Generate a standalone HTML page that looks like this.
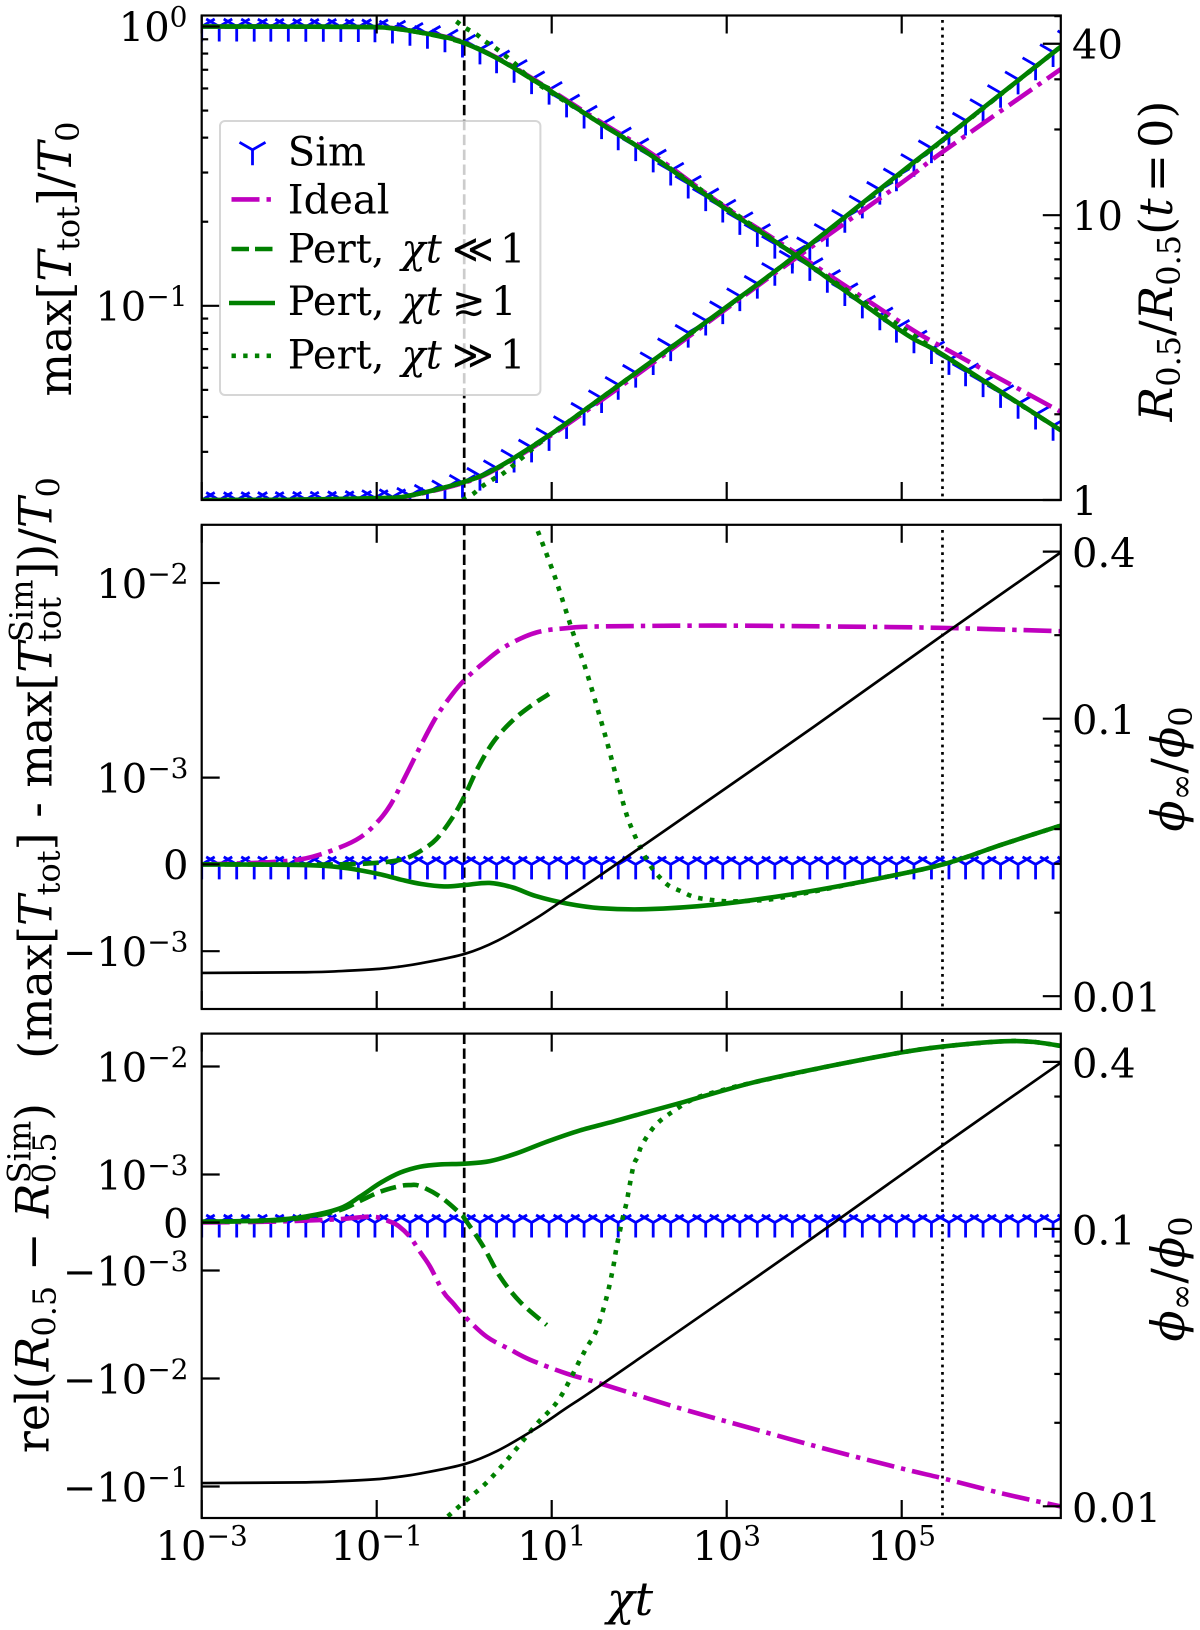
<!DOCTYPE html>
<html lang="en">
<head>
<meta charset="utf-8">
<title>Temperature and radius evolution versus chi t</title>
<style>
  html, body { margin: 0; padding: 0; background: #fff; }
  svg { display: block; }
  text { font-family: "DejaVu Serif", "Liberation Serif", serif; fill: #000; }
  .it { font-style: italic; }
</style>
</head>
<body>
<svg id="figure" xmlns="http://www.w3.org/2000/svg" width="1200" height="1630" viewBox="0 0 1200 1630">
  <defs>
    <clipPath id="clip-1"><rect x="201.7" y="15.5" width="859.1" height="484.5"/></clipPath>
    <clipPath id="clip-2"><rect x="201.7" y="524.8" width="859.1" height="484.2"/></clipPath>
    <clipPath id="clip-3"><rect x="201.7" y="1033.6" width="859.1" height="484.4"/></clipPath>
  </defs>
  <g id="plot-layer"></g>

  <g>
    <rect x="220" y="121" width="320.4" height="274" rx="5" ry="5" fill="#fff" fill-opacity="0.8" stroke="#ccc" stroke-opacity="0.8" stroke-width="2"/>
    <g>
      <path d="M252.5 149.8V165.3M252.5 149.8L239.5 142.3M252.5 149.8L265.5 142.3" stroke="#0000ff" stroke-width="2.8" fill="none"/>
      <text x="287.8" y="165.3" font-size="40">Sim</text>
    </g>
    <g>
      <line x1="231.5" x2="272.5" y1="199.4" y2="199.4" stroke="#bf00bf" stroke-width="4.6" stroke-dasharray="28 7 4.4 7"/>
      <text x="287.8" y="213.5" font-size="40">Ideal</text>
    </g>
    <g>
      <line x1="231.5" x2="272.5" y1="249" y2="249" stroke="#008000" stroke-width="4.6" stroke-dasharray="17.5 6"/>
      <text x="287.8" y="262.4" font-size="40">Pert,<tspan class="it" x="401.5">χt</tspan><tspan x="452">≪</tspan><tspan x="500">1</tspan></text>
    </g>
    <g>
      <line x1="229" x2="275" y1="303" y2="303" stroke="#008000" stroke-width="4.6"/>
      <text x="287.8" y="315" font-size="40">Pert,<tspan class="it" x="401.5">χt</tspan><tspan x="452">≳</tspan><tspan x="491">1</tspan></text>
    </g>
    <g>
      <line x1="231.5" x2="272.5" y1="355.8" y2="355.8" stroke="#008000" stroke-width="4.6" stroke-dasharray="4.4 7.3"/>
      <text x="287.8" y="368.5" font-size="40">Pert,<tspan class="it" x="401.5">χt</tspan><tspan x="452">≫</tspan><tspan x="500">1</tspan></text>
    </g>
  </g>

  <text transform="translate(70.8 259) rotate(-90)" text-anchor="middle" font-size="46">max[<tspan class="it">T</tspan><tspan font-size="32" dy="8">tot</tspan><tspan dy="-8">]/</tspan><tspan class="it">T</tspan><tspan font-size="32" dy="8">0</tspan></text>
  <text transform="translate(1172 261) rotate(-90)" text-anchor="middle" font-size="46"><tspan class="it">R</tspan><tspan font-size="32" dy="8">0.5</tspan><tspan dy="-8">/</tspan><tspan class="it">R</tspan><tspan font-size="32" dy="8">0.5</tspan><tspan dy="-8">(</tspan><tspan class="it">t</tspan><tspan dx="6">=</tspan><tspan dx="6">0)</tspan></text>
  <text transform="translate(51.7 768) rotate(-90)" text-anchor="middle" font-size="46">(max[<tspan class="it">T</tspan><tspan font-size="32" dy="8">tot</tspan><tspan dy="-8">] - max[</tspan><tspan class="it">T</tspan><tspan font-size="32" dy="-19">Sim</tspan><tspan font-size="32" dx="-62.5" dy="28">tot</tspan><tspan dx="17.5" dy="-9">])/</tspan><tspan class="it">T</tspan><tspan font-size="32" dy="8">0</tspan></text>
  <text transform="translate(1184 769) rotate(-90)" text-anchor="middle" font-size="46"><tspan class="it">ϕ</tspan><tspan font-size="32" dy="8">∞</tspan><tspan dy="-8">/</tspan><tspan class="it">ϕ</tspan><tspan font-size="32" dy="8">0</tspan></text>
  <text transform="translate(48.5 1278) rotate(-90)" text-anchor="middle" font-size="46">rel(<tspan class="it">R</tspan><tspan font-size="32" dy="7">0.5</tspan><tspan dy="-7"> − </tspan><tspan class="it">R</tspan><tspan font-size="32" dy="-18">Sim</tspan><tspan font-size="32" dx="-62.5" dy="25">0.5</tspan><tspan dx="11.6" dy="-7">)</tspan></text>
  <text transform="translate(1184 1279) rotate(-90)" text-anchor="middle" font-size="46"><tspan class="it">ϕ</tspan><tspan font-size="32" dy="8">∞</tspan><tspan dy="-8">/</tspan><tspan class="it">ϕ</tspan><tspan font-size="32" dy="8">0</tspan></text>
  <text class="it" x="630" y="1615" text-anchor="middle" font-size="46">χt</text>
</svg>

<script>
// ---------- shared x data (log10 of chi t) ----------
const simLogChi = [-3,-2.8,-2.6,-2.4,-2.21,-2.01,-1.81,-1.61,-1.41,-1.21,-1.02,-0.82,-0.62,-0.42,-0.22,-0.02,0.18,0.37,0.57,0.77,0.97,1.17,1.37,1.57,1.76,1.96,2.16,2.36,2.56,2.76,2.955,3.15,3.35,3.55,3.75,3.95,4.15,4.35,4.55,4.75,4.94,5.14,5.34,5.54,5.73,5.93,6.13,6.33,6.53,6.73,6.93];
const xTickLogChi = [-3,-1,1,3,5];
const xTickExponents = ['−3','−1','1','3','5'];
const vlineDashedLogChi = 0;
const vlineDottedLogChi = 5.466;

// ---------- top panel: max T / T0 ----------
const tempSim = [1,1,1,0.999,0.999,0.999,0.998,0.998,0.997,0.996,0.994,0.984,0.966,0.942,0.915,0.876,0.828,0.77,0.712,0.648,0.594,0.535,0.488,0.447,0.408,0.373,0.34,0.305,0.274,0.247,0.225,0.203,0.184,0.167,0.154,0.139,0.126,0.113,0.102,0.0925,0.0835,0.0765,0.07,0.064,0.0583,0.0533,0.0488,0.0446,0.0408,0.0372,0.034];
const tempLineLogChi = [-3,-2,-1,-0.71,-0.49,-0.23,0,0.38,0.82,1.55,2.14,2.95,3.79,5,5.47,6.82];
const tempIdeal = [1,0.999,0.995,0.976,0.951,0.921,0.876,0.772,0.64,0.457,0.351,0.2296,0.1545,0.0868,0.071,0.0417];
const tempPertMid = [1,0.999,0.994,0.975,0.95,0.918,0.873,0.768,0.635,0.451,0.345,0.2266,0.1514,0.081,0.0668,0.0358];
const tempEarlyLogChi = [-3,-2,-1,-0.49,0,0.38,0.82,0.97];
const tempPertEarly = [1,0.999,0.994,0.95,0.873,0.768,0.635,0.6];
const tempLateLogChi = [-0.09,0.005,0.14,0.25,0.36,0.58,0.82,1.55,2.14,3.79,5.47,6.82];
const tempPertLate = [1.043,0.992,0.937,0.88,0.836,0.736,0.63,0.451,0.345,0.1514,0.0668,0.0358];
const tempMajorTicks = [1,0.1];
const tempMajorExponents = ['0','−1'];
const tempMinorTicks = [0.9,0.8,0.7,0.6,0.5,0.4,0.3,0.2,0.09,0.08,0.07,0.06,0.05,0.04,0.03];

// ---------- top panel: R / R(t=0) ----------
const radiusSim = [1,1,1,1.001,1.001,1.002,1.003,1.004,1.007,1.01,1.017,1.024,1.036,1.062,1.1,1.15,1.218,1.295,1.41,1.53,1.68,1.85,2.06,2.28,2.54,2.8,3.1,3.47,3.87,4.27,4.68,5.2,5.75,6.38,7.05,7.85,8.75,9.8,11,12.3,13.7,15.4,17.2,19.3,21.5,24,26.9,30,33.6,37.4,41.8];
const radiusLineLogChi = [-3,-2,-1,-0.647,0,0.38,0.947,1.55,2.14,2.95,3.79,5,5.47,6.82];
const radiusIdeal = [1,1.002,1.012,1.03,1.15,1.29,1.65,2.22,3,4.58,7.07,13,16.7,32.6];
const radiusPertMid = [1,1.002,1.015,1.033,1.157,1.298,1.668,2.263,3.062,4.646,7.22,14.2,18.4,39.1];
const radiusEarlyLogChi = [-3,-2,-1,-0.647,0,0.38,0.947];
const radiusPertEarly = [1,1.002,1.015,1.033,1.157,1.298,1.668];
const radiusLateLogChi = [-0.02,0.097,0.206,0.34,0.47,0.82,0.95,1.55,3.79,6.82];
const radiusPertLate = [1,1.048,1.117,1.188,1.256,1.547,1.668,2.263,7.22,39.1];
const radiusMajorTicks = [40,10,1];
const radiusMajorLabels = ['40','10','1'];
const radiusMinorTicks = [50,30,20,9,8,7,6,5,4,3,2];

// ---------- black curve: phi_inf / phi_0 (middle and bottom panels) ----------
const phiLogChi = [-3,-1.81,-1.4,-0.99,-0.75,-0.49,0.005,0.38,0.82,1.17,1.554,2.86,4,5.47,6.82];
const phiValues = [0.01213,0.0122,0.01232,0.01253,0.01277,0.01315,0.0142,0.01585,0.01907,0.02263,0.02725,0.0526,0.0937,0.2002,0.3978];
const phiMajorTicks = [0.4,0.1,0.01];
const phiMajorLabels = ['0.4','0.1','0.01'];
const phiMinorTicks = [0.3,0.2,0.09,0.08,0.07,0.06,0.05,0.04,0.03,0.02];

// ---------- middle panel: temperature residual ----------
const tempResidSim = [0,0,0,0,0,0,0,0,0,0,0,0,0,0,0,0,0,0,0,0,0,0,0,0,0,0,0,0,0,0,0,0,0,0,0,0,0,0,0,0,0,0,0,0,0,0,0,0,0,0,0];
const tempResidIdealLogChi = [-3,-2.24,-1.81,-1.46,-1.19,-0.99,-0.84,-0.67,-0.49,-0.32,-0.14,0.005,0.21,0.47,0.82,1.17,1.554,2.86,4.18,5.47,6.82];
const tempResidIdeal = [0,2.4e-5,7e-5,1.8e-4,3.1e-4,4.9e-4,6.9e-4,1.02e-3,1.48e-3,2.05e-3,2.67e-3,3.18e-3,3.85e-3,4.72e-3,5.56e-3,5.86e-3,5.98e-3,6.04e-3,5.98e-3,5.88e-3,5.65e-3];
const tempResidEarlyLogChi = [-3,-1.46,-0.93,-0.67,-0.49,-0.32,-0.14,0.005,0.16,0.34,0.556,0.775,0.97];
const tempResidEarly = [0,0,2.4e-5,7e-5,1.6e-4,2.9e-4,5.3e-4,7.9e-4,1.13e-3,1.54e-3,1.97e-3,2.36e-3,2.69e-3];
const tempResidMidLogChi = [-3,-1.81,-1.37,-0.99,-0.71,-0.49,-0.23,0.005,0.29,0.556,0.82,1.17,1.554,2.08,2.86,3.74,4.61,5.47,6.15,6.82];
const tempResidMid = [0,-8e-6,-4e-5,-1.07e-4,-1.79e-4,-2.26e-4,-2.54e-4,-2.38e-4,-2.14e-4,-2.66e-4,-3.65e-4,-4.5e-4,-5.04e-4,-5.16e-4,-4.64e-4,-3.45e-4,-1.87e-4,0,2.3e-4,4.48e-4];
const tempResidLateLogChi = [0.841,1.038,1.243,1.388,1.54,1.64,1.749,1.858,1.968,2.077,2.164,2.252,2.34,2.47,2.6,2.733,2.996,3.3,3.61,4.61,5.47,6.15,6.82];
const tempResidLate = [1.85e-2,1.07e-2,5.56e-3,3.62e-3,2.13e-3,1.48e-3,9.64e-4,5.67e-4,2.9e-4,7.1e-5,-6.7e-5,-1.67e-4,-2.46e-4,-3.06e-4,-3.65e-4,-3.97e-4,-4.25e-4,-4.17e-4,-3.85e-4,-1.87e-4,0,2.3e-4,4.48e-4];
const tempResidTicks = [1e-2,1e-3,0,-1e-3];
const tempResidBases = ['10','10','0','−10'];
const tempResidExponents = ['−2','−3','','−3'];

// ---------- bottom panel: radius residual ----------
const radiusResidSim = [0,0,0,0,0,0,0,0,0,0,0,0,0,0,0,0,0,0,0,0,0,0,0,0,0,0,0,0,0,0,0,0,0,0,0,0,0,0,0,0,0,0,0,0,0,0,0,0,0,0,0];
const radiusResidIdealLogChi = [-3,-2.24,-1.81,-1.419,-1.04,-0.848,-0.75,-0.62,-0.505,-0.39,-0.24,-0.127,0.009,0.257,0.523,0.752,1.17,1.554,2.43,3.3,4.18,5.05,5.47,6.15,6.82];
const radiusResidIdeal = [0,1.6e-5,4e-5,7e-5,1.2e-4,1.7e-5,-7.3e-5,-3e-4,-6.1e-4,-9.2e-4,-1.57e-3,-2.01e-3,-2.68e-3,-4.1e-3,-5.38e-3,-6.7e-3,-9e-3,-1.11e-2,-1.85e-2,-2.92e-2,-4.6e-2,-6.97e-2,-8.4e-2,-1.16e-1,-1.53e-1];
const radiusResidEarlyLogChi = [-3,-2.24,-1.81,-1.419,-1.19,-0.962,-0.733,-0.62,-0.505,-0.276,-0.047,0.009,0.218,0.41,0.638,0.943];
const radiusResidEarly = [1.6e-5,3.5e-5,1.05e-4,2.6e-4,4.5e-4,6.4e-4,7.6e-4,7.8e-4,7.6e-4,5.4e-4,1.9e-4,6.7e-5,-5e-4,-1.14e-3,-1.95e-3,-3.2e-3];
const radiusResidMidLogChi = [-3,-2.24,-1.81,-1.419,-1.19,-0.962,-0.733,-0.505,-0.276,0.009,0.295,0.6,0.943,1.323,1.704,2.009,2.43,3.3,4.18,5,5.47,6.15,6.5,6.82];
const radiusResidMid = [1.6e-5,4.5e-5,1.25e-4,2.96e-4,5.4e-4,8.2e-4,1.04e-3,1.18e-3,1.24e-3,1.26e-3,1.33e-3,1.57e-3,2.01e-3,2.56e-3,3.09e-3,3.63e-3,4.5e-3,7.1e-3,1.01e-2,1.35e-2,1.53e-2,1.71e-2,1.69e-2,1.55e-2];
const radiusResidLateLogChi = [-0.187,0.005,0.25,0.513,0.82,1.08,1.323,1.4,1.514,1.629,1.704,1.743,1.819,1.857,1.932,1.983,2.033,2.186,2.383,2.646,3.08,3.3,4.18,5,5.47,6.15,6.5,6.82];
const radiusResidLate = [-1.89e-1,-1.38e-1,-9.3e-2,-5.4e-2,-2.69e-2,-1.57e-2,-6.75e-3,-5.16e-3,-3.55e-3,-1.75e-3,-9.2e-4,-5e-4,1.56e-4,4.3e-4,1.18e-3,1.46e-3,1.89e-3,2.86e-3,3.82e-3,5.1e-3,6.44e-3,7.1e-3,1.01e-2,1.35e-2,1.53e-2,1.71e-2,1.69e-2,1.55e-2];
const radiusResidTicks = [1e-2,1e-3,0,-1e-3,-1e-2,-1e-1];
const radiusResidBases = ['10','10','0','−10','−10','−10'];
const radiusResidExponents = ['−2','−3','','−3','−2','−1'];

// ---------- axis functions ----------
const LEFT = 201.7, RIGHT = 1060.8;
function xScale(logChi) { return LEFT + (logChi + 3) * 87.5; }
function yTemp(v) { return 26.5 - 279.3 * Math.log10(v); }
function yRadius(v) { return 500 - 284.8 * Math.log10(v); }
function yPhiMiddle(v) { return 718.7 - 277.5 * Math.log10(v / 0.1); }
function yPhiBottom(v) { return 1228.9 - 277.4 * Math.log10(v / 0.1); }
function symlog(zero, decadePx, linPx, lin, v) {
  const a = Math.abs(v);
  const d = a <= lin ? linPx * a / lin : linPx + decadePx * Math.log10(a / lin);
  return zero - Math.sign(v) * d;
}
function yResidMiddle(v) { return symlog(864.4, 194.6, 86.8, 1e-3, v); }
function yResidBottom(v) { return symlog(1222.5, 108, 48, 1e-3, v); }

// ---------- line styles ----------
const LW = 4.6;
const DASH_IDEAL = '28 7 4.4 7';
const DASH_EARLY = '16 7';
const DASH_LATE = '4.6 7.2';
const VLINE_DASHED = '10.4 4.5';
const VLINE_DOTTED = '2.8 4.6';

// ---------- drawing helpers ----------
const NS = 'http://www.w3.org/2000/svg';
const layer = document.getElementById('plot-layer');

function makeGroup(name, clipId) {
  const g = document.createElementNS(NS, 'g');
  
  
  if (clipId) g.setAttribute('clip-path', 'url(#' + clipId + ')');
  layer.appendChild(g);
  return g;
}
function curvePath(xs, ys, yFn) {
  const p = xs.map(function (x, i) { return [xScale(x), yFn(ys[i])]; });
  let d = 'M' + p[0][0].toFixed(2) + ' ' + p[0][1].toFixed(2);
  for (let i = 0; i < p.length - 1; i++) {
    const p0 = p[Math.max(i - 1, 0)], p1 = p[i], p2 = p[i + 1], p3 = p[Math.min(i + 2, p.length - 1)];
    const c1x = p1[0] + (p2[0] - p0[0]) / 6, c1y = p1[1] + (p2[1] - p0[1]) / 6;
    const c2x = p2[0] - (p3[0] - p1[0]) / 6, c2y = p2[1] - (p3[1] - p1[1]) / 6;
    d += 'C' + c1x.toFixed(2) + ' ' + c1y.toFixed(2) + ' ' + c2x.toFixed(2) + ' ' + c2y.toFixed(2) + ' ' + p2[0].toFixed(2) + ' ' + p2[1].toFixed(2);
  }
  return d;
}
function drawCurve(parent, name, xs, ys, yFn, color, width, dash) {
  const el = document.createElementNS(NS, 'path');
  
  
  el.setAttribute('d', curvePath(xs, ys, yFn));
  el.setAttribute('fill', 'none');
  el.setAttribute('stroke', color);
  el.setAttribute('stroke-width', width);
  if (dash) el.setAttribute('stroke-dasharray', dash);
  parent.appendChild(el);
}
function drawMarkers(parent, name, xs, ys, yFn) {
  const el = document.createElementNS(NS, 'path');
  
  
  let d = '';
  xs.forEach(function (x, i) {
    const cx = xScale(x).toFixed(2), cy = yFn(ys[i]);
    d += 'M' + cx + ' ' + cy.toFixed(2) + 'V' + (cy + 15).toFixed(2);
    d += 'M' + cx + ' ' + cy.toFixed(2) + 'l-13 -7.5';
    d += 'M' + cx + ' ' + cy.toFixed(2) + 'l13 -7.5';
  });
  el.setAttribute('d', d);
  el.setAttribute('fill', 'none');
  el.setAttribute('stroke', '#0000ff');
  el.setAttribute('stroke-width', '2.8');
  parent.appendChild(el);
}
function drawVline(parent, name, logChi, top, bottom, dash) {
  const el = document.createElementNS(NS, 'line');
  
  
  el.setAttribute('x1', xScale(logChi));
  el.setAttribute('x2', xScale(logChi));
  el.setAttribute('y1', top);
  el.setAttribute('y2', bottom);
  el.setAttribute('stroke', '#000');
  el.setAttribute('stroke-width', '2.7');
  el.setAttribute('stroke-dasharray', dash);
  parent.appendChild(el);
}
function drawSeg(parent, name, x1, y1, x2, y2, width) {
  const el = document.createElementNS(NS, 'line');
  
  
  el.setAttribute('x1', x1);
  el.setAttribute('y1', y1);
  el.setAttribute('x2', x2);
  el.setAttribute('y2', y2);
  el.setAttribute('stroke', '#000');
  el.setAttribute('stroke-width', width);
  parent.appendChild(el);
}
function drawLabel(parent, name, x, y, anchor, base, exponent) {
  const el = document.createElementNS(NS, 'text');
  
  
  el.setAttribute('x', x);
  el.setAttribute('y', y);
  el.setAttribute('text-anchor', anchor);
  el.setAttribute('font-size', '40');
  el.textContent = base;
  if (exponent) {
    const sup = document.createElementNS(NS, 'tspan');
    sup.setAttribute('font-size', '28');
    sup.setAttribute('dy', '-14.5');
    sup.textContent = exponent;
    el.appendChild(sup);
  }
  parent.appendChild(el);
}
function drawFrame(parent, prefix, top, bottom) {
  const el = document.createElementNS(NS, 'rect');
  
  
  el.setAttribute('x', LEFT);
  el.setAttribute('y', top);
  el.setAttribute('width', RIGHT - LEFT);
  el.setAttribute('height', bottom - top);
  el.setAttribute('fill', 'none');
  el.setAttribute('stroke', '#000');
  el.setAttribute('stroke-width', '2.2');
  parent.appendChild(el);
  xTickLogChi.forEach(function (lg) {
    drawSeg(parent, prefix + '-x-tick-top', xScale(lg), top, xScale(lg), top + 18, 2.2);
    drawSeg(parent, prefix + '-x-tick-bottom', xScale(lg), bottom, xScale(lg), bottom - 18, 2.2);
  });
}
function leftTick(parent, prefix, y, len) { drawSeg(parent, prefix + '-left-y-tick', LEFT, y, LEFT + len, y, 2.2); }
function rightTick(parent, prefix, y, len) { drawSeg(parent, prefix + '-right-y-tick', RIGHT, y, RIGHT - len, y, 2.2); }

// ---------- top panel ----------
(function () {
  const marks = makeGroup('top-panel-series', 'clip-1');
  drawVline(marks, 'top-vline-dashed', vlineDashedLogChi, 15.5, 500, VLINE_DASHED);
  drawVline(marks, 'top-vline-dotted', vlineDottedLogChi, 20, 500, VLINE_DOTTED);
  drawMarkers(marks, 'temperature-sim-markers', simLogChi, tempSim, yTemp);
  drawMarkers(marks, 'radius-sim-markers', simLogChi, radiusSim, yRadius);
  drawCurve(marks, 'temperature-ideal-line', tempLineLogChi, tempIdeal, yTemp, '#bf00bf', LW, DASH_IDEAL);
  drawCurve(marks, 'radius-ideal-line', radiusLineLogChi, radiusIdeal, yRadius, '#bf00bf', LW, DASH_IDEAL);
  drawCurve(marks, 'temperature-pert-early-line', tempEarlyLogChi, tempPertEarly, yTemp, '#008000', LW, DASH_EARLY);
  drawCurve(marks, 'radius-pert-early-line', radiusEarlyLogChi, radiusPertEarly, yRadius, '#008000', LW, DASH_EARLY);
  drawCurve(marks, 'temperature-pert-late-line', tempLateLogChi, tempPertLate, yTemp, '#008000', LW, DASH_LATE);
  drawCurve(marks, 'radius-pert-late-line', radiusLateLogChi, radiusPertLate, yRadius, '#008000', LW, DASH_LATE);
  drawCurve(marks, 'temperature-pert-mid-line', tempLineLogChi, tempPertMid, yTemp, '#008000', LW);
  drawCurve(marks, 'radius-pert-mid-line', radiusLineLogChi, radiusPertMid, yRadius, '#008000', LW);

  const axes = makeGroup('top-panel-axes');
  drawFrame(axes, 'top', 15.5, 500);
  tempMajorTicks.forEach(function (v, i) {
    leftTick(axes, 'top', yTemp(v), 18);
    drawLabel(axes, 'top-left-y-tick-label', 187.5, yTemp(v) + 14.6, 'end', '10', tempMajorExponents[i]);
  });
  tempMinorTicks.forEach(function (v) { leftTick(axes, 'top-minor', yTemp(v), 6.5); });
  radiusMajorTicks.forEach(function (v, i) {
    rightTick(axes, 'top', yRadius(v), 18);
    drawLabel(axes, 'top-right-y-tick-label', 1072, yRadius(v) + 15, 'start', radiusMajorLabels[i]);
  });
  radiusMinorTicks.forEach(function (v) { rightTick(axes, 'top-minor', yRadius(v), 6.5); });
})();

// ---------- middle panel ----------
(function () {
  const marks = makeGroup('middle-panel-series', 'clip-2');
  drawVline(marks, 'middle-vline-dashed', vlineDashedLogChi, 524.8, 1009, VLINE_DASHED);
  drawVline(marks, 'middle-vline-dotted', vlineDottedLogChi, 530, 1009, VLINE_DOTTED);
  drawMarkers(marks, 'temperature-residual-sim-markers', simLogChi, tempResidSim, yResidMiddle);
  drawCurve(marks, 'temperature-residual-ideal-line', tempResidIdealLogChi, tempResidIdeal, yResidMiddle, '#bf00bf', LW, DASH_IDEAL);
  drawCurve(marks, 'temperature-residual-pert-early-line', tempResidEarlyLogChi, tempResidEarly, yResidMiddle, '#008000', LW, DASH_EARLY);
  drawCurve(marks, 'temperature-residual-pert-late-line', tempResidLateLogChi, tempResidLate, yResidMiddle, '#008000', LW, DASH_LATE);
  drawCurve(marks, 'temperature-residual-pert-mid-line', tempResidMidLogChi, tempResidMid, yResidMiddle, '#008000', LW);
  drawCurve(marks, 'phi-line-middle', phiLogChi, phiValues, yPhiMiddle, '#000', 2.7);

  const axes = makeGroup('middle-panel-axes');
  drawFrame(axes, 'middle', 524.8, 1009);
  tempResidTicks.forEach(function (v, i) {
    leftTick(axes, 'middle', yResidMiddle(v), 18);
    drawLabel(axes, 'middle-left-y-tick-label', 188.5, yResidMiddle(v) + 14.8, 'end', tempResidBases[i], tempResidExponents[i]);
  });
  phiMajorTicks.forEach(function (v, i) {
    rightTick(axes, 'middle', yPhiMiddle(v), 18);
    drawLabel(axes, 'middle-right-y-tick-label', 1072, yPhiMiddle(v) + 15.5, 'start', phiMajorLabels[i]);
  });
  phiMinorTicks.forEach(function (v) { rightTick(axes, 'middle-minor', yPhiMiddle(v), 6.5); });
})();

// ---------- bottom panel ----------
(function () {
  const marks = makeGroup('bottom-panel-series', 'clip-3');
  drawVline(marks, 'bottom-vline-dashed', vlineDashedLogChi, 1033.6, 1518, VLINE_DASHED);
  drawVline(marks, 'bottom-vline-dotted', vlineDottedLogChi, 1039, 1518, VLINE_DOTTED);
  drawMarkers(marks, 'radius-residual-sim-markers', simLogChi, radiusResidSim, yResidBottom);
  drawCurve(marks, 'radius-residual-ideal-line', radiusResidIdealLogChi, radiusResidIdeal, yResidBottom, '#bf00bf', LW, DASH_IDEAL);
  drawCurve(marks, 'radius-residual-pert-early-line', radiusResidEarlyLogChi, radiusResidEarly, yResidBottom, '#008000', LW, DASH_EARLY);
  drawCurve(marks, 'radius-residual-pert-late-line', radiusResidLateLogChi, radiusResidLate, yResidBottom, '#008000', LW, DASH_LATE);
  drawCurve(marks, 'radius-residual-pert-mid-line', radiusResidMidLogChi, radiusResidMid, yResidBottom, '#008000', LW);
  drawCurve(marks, 'phi-line-bottom', phiLogChi, phiValues, yPhiBottom, '#000', 2.7);

  const axes = makeGroup('bottom-panel-axes');
  drawFrame(axes, 'bottom', 1033.6, 1518);
  radiusResidTicks.forEach(function (v, i) {
    leftTick(axes, 'bottom', yResidBottom(v), 18);
    drawLabel(axes, 'bottom-left-y-tick-label', 188.5, yResidBottom(v) + 14.8, 'end', radiusResidBases[i], radiusResidExponents[i]);
  });
  phiMajorTicks.forEach(function (v, i) {
    rightTick(axes, 'bottom', yPhiBottom(v), 18);
    drawLabel(axes, 'bottom-right-y-tick-label', 1072, yPhiBottom(v) + 15.5, 'start', phiMajorLabels[i]);
  });
  phiMinorTicks.forEach(function (v) { rightTick(axes, 'bottom-minor', yPhiBottom(v), 6.5); });
  xTickLogChi.forEach(function (lg, i) {
    drawLabel(axes, 'x-tick-label', xScale(lg), 1560, 'middle', '10', xTickExponents[i]);
  });
})();
</script>
</body>
</html>
